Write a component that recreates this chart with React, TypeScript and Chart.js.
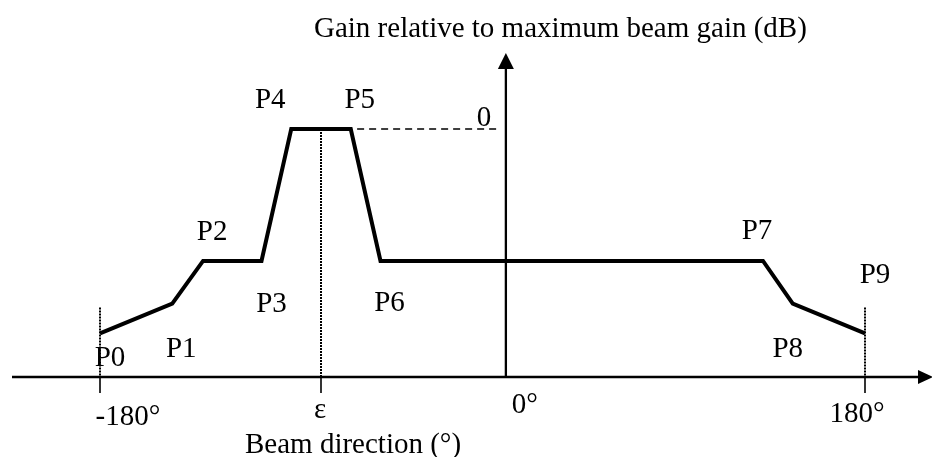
import React, { useEffect, useRef } from "react";
import { Chart, registerables } from "chart.js";

Chart.register(...registerables);

// ---- data (schematic gain mask) ----
const POINT_NAMES = ["P0", "P1", "P2", "P3", "P4", "P5", "P6", "P7", "P8", "P9"];
const BEAM_DIR = [-180, -146, -131.5, -104, -90, -62, -48, 132, 146, 180];
const GAIN_DB = [-20.6, -17.6, -13.3, -13.3, 0, 0, -13.3, -13.3, -17.6, -20.6];
const EPSILON = -76;
const AXIS_FLOOR = -25; // level where the beam-direction axis is drawn
const GAIN_AXIS_AT = 11; // vertical gain axis position (the "0°" mark)
const BOUND_TOP = -18; // top of the dotted ±180° markers
const ZERO_REF_FROM = -59;
const ZERO_REF_TO = 7;
const X_TICK_VALUES = [-180, EPSILON, GAIN_AXIS_AT, 180];
const X_TICK_LABELS = ["-180°", "ε", "0°", "180°"];
const ZERO_LABEL = "0";
const TITLE = "Gain relative to maximum beam gain (dB)";
const X_TITLE = "Beam direction (°)";

// ---- layout / style (pixels) ----
const FONT = '29px "Liberation Serif", "Times New Roman", Times, serif';
const LABEL_OFFSETS: [number, number][] = [
  [10, 33],
  [9, 53],
  [9, -21],
  [10, 51],
  [-21, -21],
  [9, -21],
  [9, 50],
  [-6, -22],
  [-5, 53],
  [10, -50],
];
const TICK_LABEL_OFFSETS: [number, number][] = [
  [28, 48],
  [-1, 41],
  [19, 36],
  [-8, 45],
];
const TICK_MARK_AT = [true, true, false, true];

const overlayPlugin = {
  id: "overlay",
  afterDatasetsDraw(chart: any) {
    const ctx: CanvasRenderingContext2D = chart.ctx;
    const xs = chart.scales.x;
    const ys = chart.scales.y;
    const W = chart.width;
    const yAxisPx = ys.getPixelForValue(AXIS_FLOOR);
    const xAxisPx = xs.getPixelForValue(GAIN_AXIS_AT);
    const y0 = ys.getPixelForValue(0);
    ctx.save();
    ctx.strokeStyle = "#000";
    ctx.fillStyle = "#000";
    ctx.lineCap = "butt";

    // horizontal axis
    ctx.lineWidth = 2.6;
    ctx.beginPath();
    ctx.moveTo(12, yAxisPx);
    ctx.lineTo(W - 10, yAxisPx);
    ctx.stroke();
    ctx.beginPath();
    ctx.moveTo(W + 1, yAxisPx);
    ctx.lineTo(W - 14, yAxisPx - 7);
    ctx.lineTo(W - 14, yAxisPx + 7);
    ctx.closePath();
    ctx.fill();

    // vertical axis
    const tipY = 53;
    ctx.lineWidth = 2.3;
    ctx.beginPath();
    ctx.moveTo(xAxisPx, yAxisPx);
    ctx.lineTo(xAxisPx, tipY + 10);
    ctx.stroke();
    ctx.beginPath();
    ctx.moveTo(xAxisPx, tipY);
    ctx.lineTo(xAxisPx - 8, tipY + 16);
    ctx.lineTo(xAxisPx + 8, tipY + 16);
    ctx.closePath();
    ctx.fill();

    // tick marks
    ctx.lineWidth = 1.6;
    X_TICK_VALUES.forEach((v, i) => {
      if (!TICK_MARK_AT[i]) return;
      const px = xs.getPixelForValue(v);
      ctx.beginPath();
      ctx.moveTo(px, yAxisPx);
      ctx.lineTo(px, yAxisPx + 16);
      ctx.stroke();
    });

    // texts
    ctx.font = FONT;
    ctx.textBaseline = "alphabetic";
    ctx.textAlign = "center";
    POINT_NAMES.forEach((name, i) => {
      const px = xs.getPixelForValue(BEAM_DIR[i]);
      const py = ys.getPixelForValue(GAIN_DB[i]);
      ctx.fillText(name, px + LABEL_OFFSETS[i][0], py + LABEL_OFFSETS[i][1]);
    });
    X_TICK_LABELS.forEach((t, i) => {
      const px = xs.getPixelForValue(X_TICK_VALUES[i]);
      ctx.fillText(t, px + TICK_LABEL_OFFSETS[i][0], yAxisPx + TICK_LABEL_OFFSETS[i][1]);
    });
    ctx.fillText(ZERO_LABEL, xAxisPx - 22, y0 - 3);

    ctx.textAlign = "left";
    ctx.fillText(TITLE, 314, 37);
    ctx.fillText(X_TITLE, 245, 453);
    ctx.restore();
  },
};

const dotted = {
  borderColor: "#000",
  borderWidth: 2,
  borderDash: [2, 1],
  pointRadius: 0,
  clip: false as any,
};

export default function App() {
  const canvasRef = useRef<HTMLCanvasElement | null>(null);

  useEffect(() => {
    document.body.style.margin = "0";
    const canvas = canvasRef.current;
    if (!canvas) return;
    const profile = BEAM_DIR.map((x, i) => ({ x, y: GAIN_DB[i] }));
    const chart = new Chart(canvas, {
      type: "line",
      data: {
        datasets: [
          {
            data: profile,
            borderColor: "#000",
            borderWidth: 4,
            borderJoinStyle: "miter",
            borderCapStyle: "butt",
            pointRadius: 0,
            tension: 0,
            clip: false as any,
          },
          {
            ...dotted,
            data: [
              { x: EPSILON, y: 0 },
              { x: EPSILON, y: AXIS_FLOOR },
            ],
          },
          {
            ...dotted,
            data: [
              { x: BEAM_DIR[0], y: BOUND_TOP },
              { x: BEAM_DIR[0], y: AXIS_FLOOR },
            ],
          },
          {
            ...dotted,
            data: [
              { x: BEAM_DIR[9], y: BOUND_TOP },
              { x: BEAM_DIR[9], y: AXIS_FLOOR },
            ],
          },
          {
            data: [
              { x: ZERO_REF_FROM, y: 0 },
              { x: ZERO_REF_TO, y: 0 },
            ],
            borderColor: "#000",
            borderWidth: 1.5,
            borderDash: [7, 5],
            pointRadius: 0,
            clip: false as any,
          },
        ],
      },
      options: {
        responsive: false,
        animation: false,
        devicePixelRatio: 1,
        layout: { padding: { left: 100, right: 67, top: 129, bottom: 80 } },
        scales: {
          x: { type: "linear", min: -180, max: 180, display: false },
          y: { type: "linear", min: AXIS_FLOOR, max: 0, display: false },
        },
        plugins: { legend: { display: false }, tooltip: { enabled: false } },
      },
      plugins: [overlayPlugin],
    });
    return () => chart.destroy();
  }, []);

  return (
    <div style={{ width: 932, height: 457, background: "#fff" }}>
      <canvas ref={canvasRef} width={932} height={457} />
    </div>
  );
}
